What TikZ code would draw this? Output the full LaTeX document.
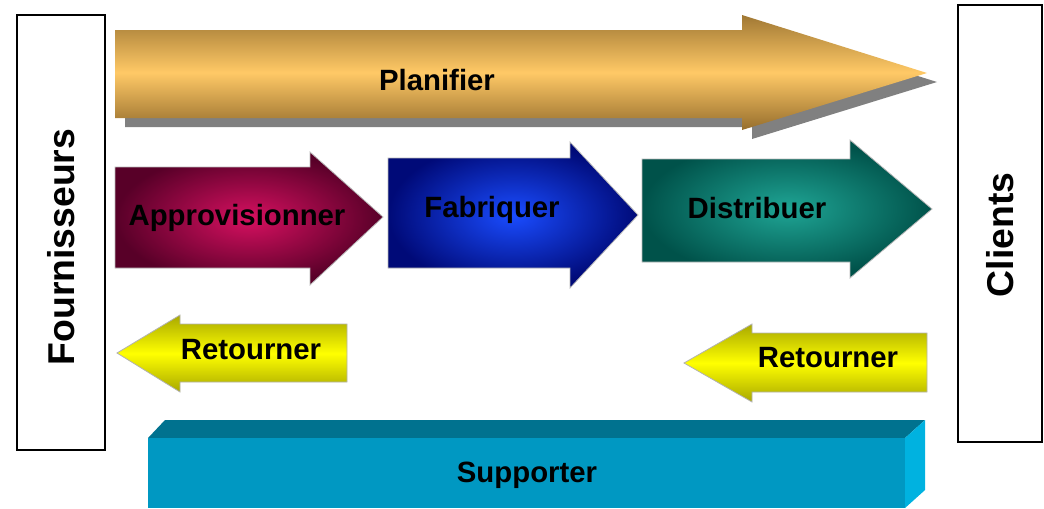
\documentclass[tikz,border=0pt]{standalone}
\usepackage{fontspec}
\setmainfont{Liberation Sans}
\usetikzlibrary{positioning}

\definecolor{planTop}{RGB}{160,120,52}
\definecolor{planMid}{RGB}{255,201,102}
\definecolor{planBot}{RGB}{150,110,45}
\definecolor{planShadow}{RGB}{128,128,128}
\definecolor{approIn}{RGB}{214,16,96}
\definecolor{approOut}{RGB}{88,0,40}
\definecolor{fabIn}{RGB}{26,76,255}
\definecolor{fabOut}{RGB}{0,10,120}
\definecolor{distIn}{RGB}{31,165,149}
\definecolor{distOut}{RGB}{0,82,74}
\definecolor{retEdge}{RGB}{168,168,0}
\definecolor{retMid}{RGB}{255,255,0}
\definecolor{suppFront}{RGB}{0,152,194}
\definecolor{suppTop}{RGB}{0,114,143}
\definecolor{suppSide}{RGB}{0,178,224}

\begin{document}
\begin{tikzpicture}[
    x=0.75pt, y=-0.75pt,
    every node/.style={font=\fontsize{22}{26}\selectfont\bfseries},
    side/.style={draw=black, line width=1.8pt, fill=white},
    sidetext/.style={rotate=90, font=\fontsize{28}{32}\selectfont\bfseries},
    process/.style={draw=gray!55, line width=0.6pt},
    back/.style={top color=retEdge, bottom color=retEdge, middle color=retMid, draw=gray!60, line width=0.6pt}
]

    \useasboundingbox (0,0) rectangle (1044,508);

    % Side boxes
    \node[side, minimum width=66pt, minimum height=326pt] (fourbox) at (61,232.5) {};
    \node[sidetext] (four) at (61,247) {Fournisseurs};
    \node[side, minimum width=63pt, minimum height=328pt] (clibox) at (1000,223.5) {};
    \node[sidetext] (cli) at (1000,235) {Clients};

    % Planning arrow with its shadow
    \fill[planShadow] (125,39) -- (752,39) -- (752,24) -- (937,82) -- (752,139) -- (752,127) -- (125,127) -- cycle;
    \shade[top color=planTop, bottom color=planBot, middle color=planMid]
        (115,30) -- (742,30) -- (742,15) -- (927,73) -- (742,130) -- (742,118) -- (115,118) -- cycle;
    \node (plan) at (437,80) {Planifier};

    % Process arrows
    \shade[process, inner color=approIn, outer color=approOut]
        (115,167) -- (310,167) -- (310,152) -- (383,217) -- (310,285) -- (310,268) -- (115,268) -- cycle;
    \node (appro) at (237,218) {Approvisionner};

    \shade[process, inner color=fabIn, outer color=fabOut]
        (388,158) -- (570,158) -- (570,142) -- (638,215) -- (570,288) -- (570,268) -- (388,268) -- cycle;
    \node (fab) at (492,210) {Fabriquer};

    \shade[process, inner color=distIn, outer color=distOut]
        (642,159) -- (850,159) -- (850,140) -- (932,209) -- (850,278) -- (850,262) -- (642,262) -- cycle;
    \node (dist) at (757,208) {Distribuer};

    % Return arrows
    \shade[back] (347,324) -- (180,324) -- (180,315) -- (117,353) -- (180,392) -- (180,382) -- (347,382) -- cycle;
    \node (retL) at (251,350) {Retourner};

    \shade[back] (927,333) -- (752,333) -- (752,324) -- (684,363) -- (752,402) -- (752,392) -- (927,392) -- cycle;
    \node (retR) at (828,358) {Retourner};

    % Support block
    \fill[suppTop] (148,438) -- (165,420) -- (925,420) -- (905,438) -- cycle;
    \fill[suppSide] (905,438) -- (925,420) -- (925,490) -- (905,508) -- cycle;
    \fill[suppFront] (148,438) rectangle (905,508);
    \node (supp) at (527,475) {Supporter};

\end{tikzpicture}
\end{document}
